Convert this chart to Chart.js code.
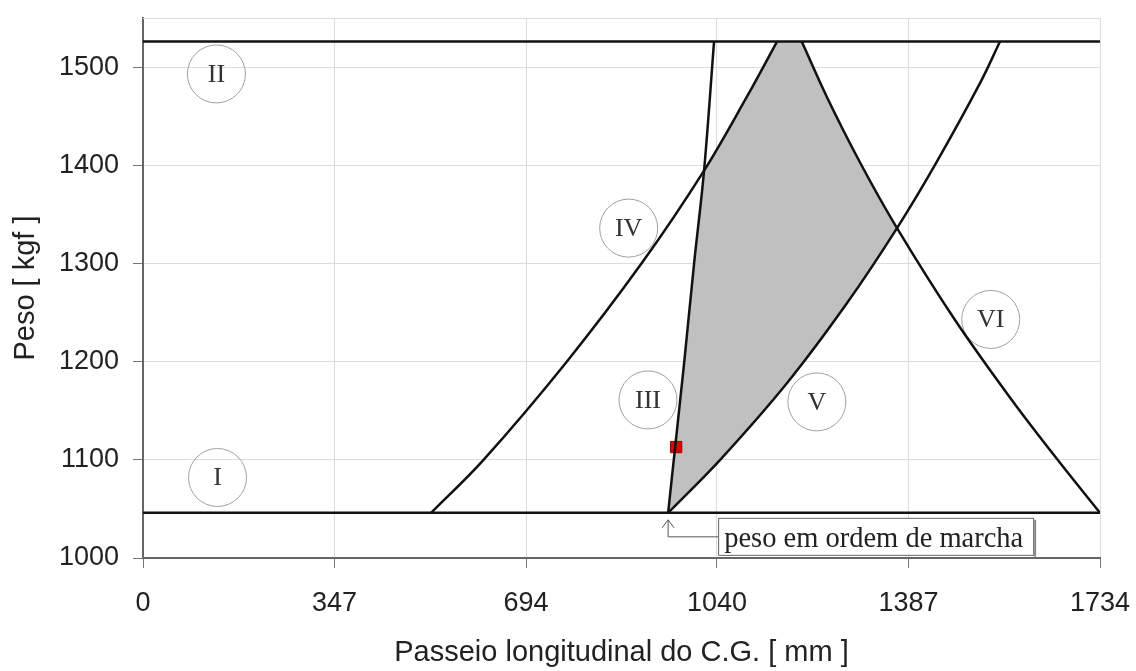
<!DOCTYPE html>
<html>
<head>
<meta charset="utf-8">
<script src="https://cdn.jsdelivr.net/npm/chart.js@4.4.0/dist/chart.umd.min.js"></script>
<style>
  html, body { margin: 0; padding: 0; background: #fff; }
</style>
</head>
<body>
<canvas id="chart" width="1136" height="671"></canvas>
<script>
// axis ticks
const xTicks = [0, 347, 694, 1040, 1387, 1734];
const yTicks = [1000, 1100, 1200, 1300, 1400, 1500];

// limit lines (I and II)
const limitTop = [{ x: 0, y: 1526 }, { x: 1734, y: 1526 }];
const limitBottom = [{ x: 0, y: 1046 }, { x: 1734, y: 1046 }];

// curves
const lineIII = [
    { x: 951.5, y: 1046 }, { x: 964.2, y: 1113 }, { x: 980.5, y: 1198.7 },
    { x: 998.6, y: 1300.4 }, { x: 1016.6, y: 1394.6 }, { x: 1034.7, y: 1526 }
];
const curveIV = [
    { x: 522, y: 1046 }, { x: 617, y: 1100 }, { x: 766, y: 1198.7 },
    { x: 903.8, y: 1300.4 }, { x: 1016.6, y: 1394.6 }, { x: 1094, y: 1469.6 },
    { x: 1148.8, y: 1526 }
];
const curveV = [
    { x: 951.5, y: 1046 }, { x: 1045.7, y: 1100 }, { x: 1167, y: 1178.3 },
    { x: 1275.7, y: 1259.7 }, { x: 1366.2, y: 1336 }, { x: 1436.9, y: 1402.2 },
    { x: 1516.6, y: 1483.6 }, { x: 1552.8, y: 1526 }
];
const curveVI = [
    { x: 1193.6, y: 1526 }, { x: 1239.1, y: 1469.6 }, { x: 1300.2, y: 1401.8 },
    { x: 1366.2, y: 1336 }, { x: 1471.3, y: 1242.4 }, { x: 1573.8, y: 1161.2 },
    { x: 1657.2, y: 1100 }, { x: 1734, y: 1046 }
];

// where the curves meet (indexes into the arrays above)
const cutIII = 4, cutIV = 4, cutV = 4, cutVI = 3;

// current point (red square)
const currentPoint = [{ x: 966, y: 1113 }];

// region labels
const regionNames = ["I", "II", "III", "IV", "V", "VI"];
const regionPoints = [
    { x: 135, y: 1082 }, { x: 133, y: 1493 }, { x: 915, y: 1161 },
    { x: 880, y: 1336 }, { x: 1221, y: 1159 }, { x: 1536, y: 1243 }
];

const noteText = "peso em ordem de marcha";
const notePoint = { x: 951.5, y: 1046 };

const curveStyle = {
    type: "scatter",
    showLine: true,
    borderColor: "#111",
    borderWidth: 2.5,
    pointRadius: 0,
    tension: 0.35,
    fill: false,
};

function bez(ctx, prev, cur, flip) {
    ctx.bezierCurveTo(
        flip ? prev.cp1x : prev.cp2x, flip ? prev.cp1y : prev.cp2y,
        flip ? cur.cp2x : cur.cp1x, flip ? cur.cp2y : cur.cp1y,
        cur.x, cur.y
    );
}

const labelsPlugin = {
    id: "labels",
    beforeDatasetsDraw(chart) {
        const { ctx, chartArea: a } = chart;
        ctx.save();
        // top frame line
        ctx.strokeStyle = "#dcdcdc";
        ctx.lineWidth = 1;
        ctx.beginPath();
        ctx.moveTo(a.left, a.top + 0.5);
        ctx.lineTo(a.right, a.top + 0.5);
        ctx.stroke();

        // shaded envelope, following the drawn curves
        [2, 3, 4, 5].forEach((i) => chart.getDatasetMeta(i).dataset.updateControlPoints(a, "x"));
        const p3 = chart.getDatasetMeta(2).data;
        const p4 = chart.getDatasetMeta(3).data;
        const p5 = chart.getDatasetMeta(4).data;
        const p6 = chart.getDatasetMeta(5).data;
        ctx.beginPath();
        ctx.moveTo(p3[0].x, p3[0].y);
        for (let i = 1; i <= cutIII; i++) bez(ctx, p3[i - 1], p3[i], false);
        ctx.lineTo(p4[cutIV].x, p4[cutIV].y);
        for (let i = cutIV + 1; i < p4.length; i++) bez(ctx, p4[i - 1], p4[i], false);
        ctx.lineTo(p6[0].x, p6[0].y);
        for (let i = 1; i <= cutVI; i++) bez(ctx, p6[i - 1], p6[i], false);
        ctx.lineTo(p5[cutV].x, p5[cutV].y);
        for (let i = cutV; i >= 1; i--) bez(ctx, p5[i], p5[i - 1], true);
        ctx.closePath();
        ctx.fillStyle = "#c0c0c0";
        ctx.fill();
        ctx.restore();
    },
    afterDatasetsDraw(chart) {
        const { ctx } = chart;
        const xs = chart.scales.x, ys = chart.scales.y;
        ctx.save();
        // roman numerals inside the circles
        const meta = chart.getDatasetMeta(6);
        ctx.font = "26px 'Liberation Serif', 'DejaVu Serif', serif";
        ctx.fillStyle = "#333";
        ctx.textAlign = "center";
        ctx.textBaseline = "middle";
        meta.data.forEach((el, i) => {
            ctx.fillText(regionNames[i], el.x, el.y + 1);
        });

        // note with arrow
        const ax = xs.getPixelForValue(notePoint.x);
        const ay = ys.getPixelForValue(notePoint.y);
        ctx.strokeStyle = "#555";
        ctx.lineWidth = 1;
        ctx.beginPath();
        ctx.moveTo(ax - 6, ay + 15);
        ctx.lineTo(ax, ay + 7);
        ctx.lineTo(ax + 6, ay + 15);
        ctx.moveTo(ax, ay + 7);
        ctx.lineTo(ax, ay + 24);
        ctx.lineTo(ax + 50, ay + 24);
        ctx.stroke();
        ctx.fillStyle = "#fff";
        ctx.fillRect(ax + 50, ay + 5, 315, 37);
        ctx.strokeStyle = "#666";
        ctx.strokeRect(ax + 50.5, ay + 5.5, 315, 37);
        ctx.strokeStyle = "#888";
        ctx.lineWidth = 2;
        ctx.beginPath();
        ctx.moveTo(ax + 367, ay + 7);
        ctx.lineTo(ax + 367, ay + 44);
        ctx.stroke();
        ctx.fillStyle = "#222";
        ctx.font = "28.5px 'Liberation Serif', 'DejaVu Serif', serif";
        ctx.textAlign = "left";
        ctx.textBaseline = "alphabetic";
        ctx.fillText(noteText, ax + 56, ay + 34);
        ctx.restore();
    }
};

const sansFont = "'Liberation Sans', Arial, sans-serif";

const config = {
    data: {
        datasets: [
            { ...curveStyle, data: limitTop, tension: 0 },
            { ...curveStyle, data: limitBottom, tension: 0 },
            { ...curveStyle, data: lineIII },
            { ...curveStyle, data: curveIV },
            { ...curveStyle, data: curveV },
            { ...curveStyle, data: curveVI },
            {
                type: "scatter",
                data: regionPoints,
                pointRadius: 29,
                pointBorderWidth: 1,
                pointBorderColor: "#a0a0a0",
                pointBackgroundColor: "rgba(255,255,255,0)",
            },
            {
                type: "scatter",
                data: currentPoint,
                pointStyle: "rect",
                pointRadius: 8,
                pointBorderWidth: 1,
                pointBorderColor: "#900",
                pointBackgroundColor: "#e00000",
            },
        ],
    },
    options: {
        responsive: false,
        animation: false,
        layout: { autoPadding: false, padding: { top: 18, right: 36, left: 0, bottom: 0 } },
        plugins: { legend: { display: false }, tooltip: { enabled: false } },
        scales: {
            x: {
                type: "linear",
                min: 0,
                max: 1734,
                afterBuildTicks: (s) => { s.ticks = xTicks.map((v) => ({ value: v })); },
                afterFit: (s) => { s.height = 113; s.paddingLeft = 0; s.paddingRight = 0; },
                grid: { color: "#dcdcdc", tickColor: "#777", tickLength: 10 },
                border: { color: "#666", width: 2 },
                ticks: {
                    color: "#222",
                    padding: 19,
                    maxRotation: 0,
                    callback: (v) => String(v),
                    font: { family: sansFont, size: 27 },
                },
                title: {
                    display: true,
                    text: "Passeio longitudinal do C.G. [ mm ]",
                    color: "#222",
                    padding: { top: 0, bottom: 1 },
                    font: { family: sansFont, size: 29 },
                },
            },
            y: {
                type: "linear",
                min: 1000,
                max: 1550,
                afterBuildTicks: (s) => { s.ticks = yTicks.map((v) => ({ value: v })); },
                afterFit: (s) => { s.width = 143; s.paddingTop = 0; s.paddingBottom = 0; },
                grid: { color: "#dcdcdc", tickColor: "#777", tickLength: 10 },
                border: { color: "#666", width: 2 },
                ticks: {
                    color: "#222",
                    padding: 14,
                    callback: (v) => String(v),
                    font: { family: sansFont, size: 27 },
                },
                title: {
                    display: true,
                    text: "Peso [ kgf ]",
                    color: "#222",
                    padding: { top: 9, bottom: 0 },
                    font: { family: sansFont, size: 29 },
                },
            },
        },
    },
    plugins: [labelsPlugin],
};

const myChart = new Chart(document.getElementById("chart"), config);
</script>
</body>
</html>
